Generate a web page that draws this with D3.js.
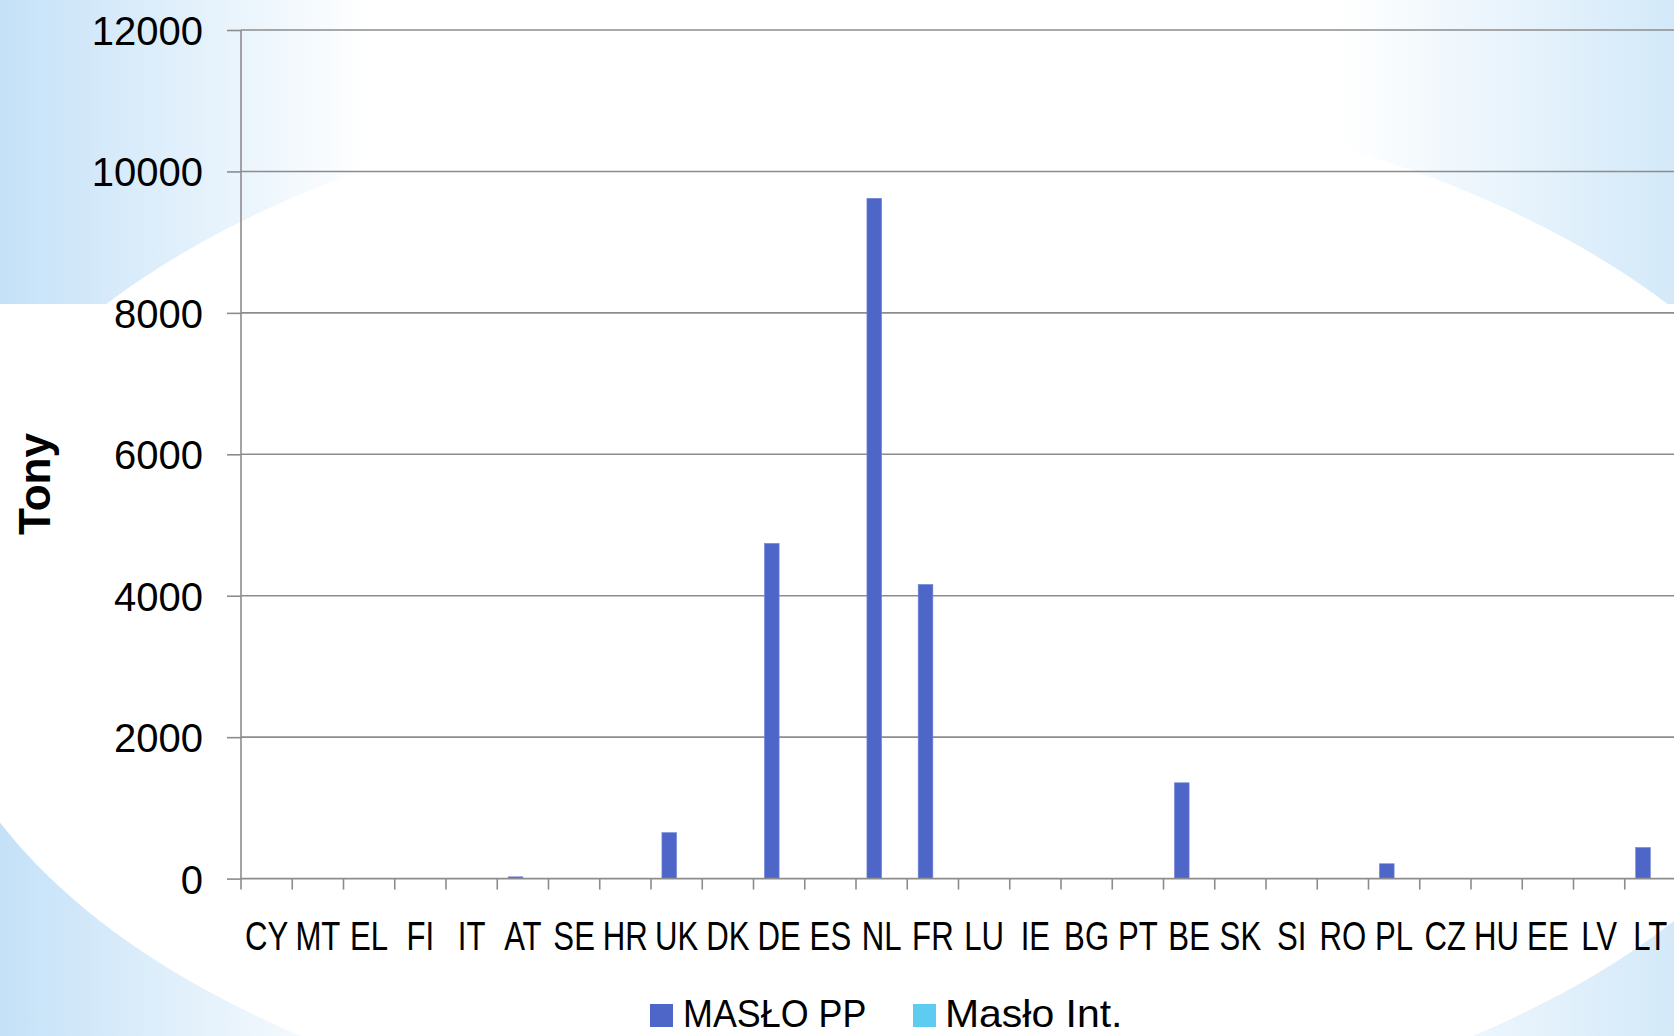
<!DOCTYPE html>
<html>
<head>
<meta charset="utf-8">
<script src="https://cdn.jsdelivr.net/npm/d3@7"></script>
<style>
  html, body { margin: 0; padding: 0; background: #ffffff; overflow: hidden; }
  svg { display: block; }
</style>
</head>
<body>
<svg id="chart" width="1674" height="1036"></svg>
<script>
// ---------- data ----------
const categories = ["CY","MT","EL","FI","IT","AT","SE","HR","UK","DK","DE","ES","NL","FR","LU","IE","BG","PT","BE","SK","SI","RO","PL","CZ","HU","EE","LV","LT"];
const masloPP  = [0,0,0,0,0,25,0,0,650,0,4740,0,9620,4160,0,0,0,0,1355,0,0,0,210,0,0,0,0,440];
const masloInt = [0,0,0,0,0,0,0,0,0,0,0,0,0,0,0,0,0,0,0,0,0,0,0,0,0,0,0,0];
const seriesNames = ["MASŁO PP", "Masło Int."];
const seriesColors = ["#4F66C9", "#5ECBF0"];
const yTicks = [0, 2000, 4000, 6000, 8000, 10000, 12000];
const yTitle = "Tony";

// ---------- layout ----------
const W = 1674, H = 1036;
const plotLeft = 241, plotRight = 1676, plotTop = 30, plotBottom = 878.6;
const fontMain = "'Liberation Sans', Arial, sans-serif";

const svg = d3.select("#chart");
const defs = svg.append("defs");

// background: slide-like blue side gradient with white ellipse
const grad = defs.append("linearGradient").attr("id", "bgGrad")
  .attr("x1", 0).attr("x2", W).attr("y1", 0).attr("y2", 0)
  .attr("gradientUnits", "userSpaceOnUse");
grad.append("stop").attr("offset", "0").attr("stop-color", "#c4e1f8");
grad.append("stop").attr("offset", "0.22").attr("stop-color", "#ffffff");
grad.append("stop").attr("offset", "0.80").attr("stop-color", "#ffffff");
grad.append("stop").attr("offset", "1").attr("stop-color", "#d3e9f9");

svg.append("rect").attr("width", W).attr("height", H).attr("fill", "#ffffff");
svg.append("rect").attr("x", 0).attr("y", 0).attr("width", W).attr("height", 304).attr("fill", "url(#bgGrad)");
svg.append("rect").attr("x", 0).attr("y", 600).attr("width", W).attr("height", H - 600).attr("fill", "url(#bgGrad)");
svg.append("ellipse").attr("cx", 887).attr("cy", 615).attr("rx", 964).attr("ry", 530).attr("fill", "#ffffff");

// ---------- scales ----------
const x0 = d3.scaleBand().domain(categories).range([plotLeft, plotRight]).paddingInner(0).paddingOuter(0);
const x1 = d3.scaleBand().domain(seriesNames).range([0, x0.bandwidth()]).paddingInner(0).paddingOuter(0.743);
const y = d3.scaleLinear().domain([0, 12000]).range([plotBottom, plotTop]);

const gridColor = "#8c8c8c";

// gridlines
svg.append("g").selectAll("line").data(yTicks.filter(d => d > 0)).join("line")
  .attr("x1", plotLeft).attr("x2", plotRight)
  .attr("y1", d => y(d)).attr("y2", d => y(d))
  .attr("stroke", gridColor).attr("stroke-width", 1.6);

// y axis
const yAxis = svg.append("g").attr("transform", `translate(${plotLeft},0)`)
  .call(d3.axisLeft(y).tickValues(yTicks).tickSize(14).tickPadding(24).tickFormat(d3.format("d")));
yAxis.select(".domain").attr("stroke", gridColor).attr("stroke-width", 1.6).attr("d", `M0,${plotTop}V${plotBottom}`);
yAxis.selectAll(".tick line").attr("stroke", gridColor).attr("stroke-width", 1.6);
yAxis.selectAll(".tick text")
  .attr("font-family", fontMain)
  .attr("font-size", 40).attr("fill", "#000").attr("dy", "0.36em");

// bars
const series = [masloPP, masloInt];
const barG = svg.append("g");
categories.forEach((c, i) => {
  seriesNames.forEach((s, j) => {
    const v = series[j][i];
    if (v <= 0) return;
    barG.append("rect")
      .attr("x", x0(c) + x1(s))
      .attr("y", y(v))
      .attr("width", x1.bandwidth())
      .attr("height", y(0) - y(v))
      .attr("fill", seriesColors[j])
      .attr("stroke", "#7187da").attr("stroke-width", 0.6);
  });
});

// x axis
const xAxis = svg.append("g").attr("transform", `translate(0,${plotBottom})`)
  .call(d3.axisBottom(x0).tickSize(0).tickPadding(0));
xAxis.select(".domain").attr("stroke", gridColor).attr("stroke-width", 1.6).attr("d", `M${plotLeft},0H${plotRight}`);
xAxis.selectAll(".tick text")
  .attr("font-family", fontMain)
  .attr("font-size", 41).attr("fill", "#000")
  .attr("x", 0).attr("y", 71).attr("dy", 0)
  .attr("transform", "scale(0.76,1)");
// category boundary tick marks
svg.append("g").selectAll("line").data(categories).join("line")
  .attr("x1", d => x0(d)).attr("x2", d => x0(d))
  .attr("y1", plotBottom).attr("y2", plotBottom + 11)
  .attr("stroke", gridColor).attr("stroke-width", 1.6);

// y title
svg.append("text")
  .attr("transform", `translate(50,484) rotate(-90)`)
  .attr("text-anchor", "middle")
  .attr("font-family", fontMain)
  .attr("font-weight", "bold").attr("font-size", 44).attr("fill", "#000")
  .text(yTitle);

// legend
const legendPos = [{sx: 650, tx: 683, sc: 0.92}, {sx: 913, tx: 945, sc: 1.05}];
const lg = svg.append("g");
seriesNames.forEach((s, j) => {
  lg.append("rect").attr("x", legendPos[j].sx).attr("y", 1004).attr("width", 23).attr("height", 23)
    .attr("fill", seriesColors[j]);
  lg.append("text")
    .attr("transform", `translate(${legendPos[j].tx},1027) scale(${legendPos[j].sc},1)`)
    .attr("font-family", fontMain)
    .attr("font-size", 39).attr("fill", "#000")
    .text(s);
});
</script>
</body>
</html>
